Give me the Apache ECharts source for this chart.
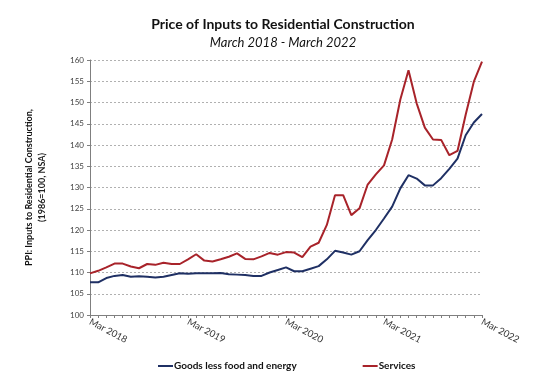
<!DOCTYPE html>
<html>
<head>
<meta charset="utf-8">
<script src="https://cdn.jsdelivr.net/npm/echarts@6/dist/echarts.min.js"></script>
<style>html,body{margin:0;padding:0;background:#fff;}#c{width:538px;height:378px;}</style>
</head>
<body>
<div id="c"></div>
<script>
var monthNames = ['Mar','Apr','May','Jun','Jul','Aug','Sep','Oct','Nov','Dec','Jan','Feb'];
var startYear = 2018;
var categories = [];
for (var i = 0; i < 49; i++) {
  var y = startYear + Math.floor((i + 2) / 12);
  categories.push(monthNames[i % 12] + ' ' + y);
}
var goods = [107.7,107.7,108.7,109.2,109.4,109.0,109.1,109.0,108.8,109.0,109.4,109.8,
  109.7,109.8,109.8,109.8,109.9,109.6,109.5,109.4,109.2,109.2,110.0,110.6,
  111.2,110.3,110.3,110.9,111.5,113.1,115.1,114.7,114.2,115.0,117.6,120.0,
  122.7,125.5,129.8,132.9,132.1,130.5,130.5,132.2,134.4,136.8,142.3,145.3,147.3];
var services = [109.8,110.4,111.2,112.1,112.1,111.4,111.0,112.0,111.8,112.3,112.0,112.0,
  113.1,114.3,112.8,112.6,113.1,113.7,114.5,113.2,113.1,113.8,114.6,114.2,
  114.8,114.7,113.6,116.1,117.0,121.2,128.2,128.2,123.5,125.1,130.7,133.1,
  135.2,141.3,150.7,157.6,149.8,144.1,141.3,141.2,137.6,138.6,147.1,154.9,159.6];
var yTicks = {min: 100, max: 160, interval: 5};
var titleText = 'Price of Inputs to Residential Construction';
var subtitleText = 'March 2018 - March 2022';
var yName1 = 'PPI: Inputs to Residential Construction,';
var yName2 = '(1986=100, NSA)';

var FONT = 'Lato';
var chart = echarts.init(document.getElementById('c'), null, {renderer: 'canvas'});
chart.setOption({
  animation: false,
  backgroundColor: '#fff',
  title: [
    {text: titleText, left: 278, top: 12, textAlign: 'center',
     textStyle: {fontFamily: FONT, fontSize: 14, fontWeight: 'bold', color: '#111'}},
    {text: subtitleText, left: 278, top: 31, textAlign: 'center',
     textStyle: {fontFamily: FONT, fontSize: 13, fontStyle: 'italic', fontWeight: 'normal', color: '#111'}}
  ],
  legend: {
    bottom: 2, left: 153, itemGap: 66, itemWidth: 15, itemHeight: 2, icon: 'rect',
    textStyle: {fontFamily: FONT, fontSize: 10, fontWeight: 'bold', color: '#111', padding: [0,0,0,-4]},
    data: ['Goods less food and energy', 'Services']
  },
  grid: {left: 90, right: 56, top: 60, bottom: 63, containLabel: false},
  xAxis: {
    type: 'category', data: categories, boundaryGap: false,
    axisLine: {lineStyle: {color: '#7f7f7f', width: 1}},
    axisTick: {interval: 0, length: 3, lineStyle: {color: '#7f7f7f'}},
    axisLabel: {interval: 11, rotate: -28, fontFamily: FONT, fontSize: 9.5, color: '#333', margin: 6},
    splitLine: {show: false}
  },
  yAxis: {
    type: 'value', min: yTicks.min, max: yTicks.max, interval: yTicks.interval,
    name: '{a|' + yName1 + '}\n{b|' + yName2 + '}',
    nameLocation: 'middle', nameRotate: 90, nameGap: 41,
    nameTextStyle: {
      lineHeight: 13,
      rich: {
        a: {fontFamily: FONT, fontSize: 9, fontWeight: 'bold', color: '#111', lineHeight: 13},
        b: {fontFamily: FONT, fontSize: 9, fontWeight: 'bold', color: '#222', lineHeight: 13}
      }
    },
    axisLine: {show: true, lineStyle: {color: '#7f7f7f', width: 1}},
    axisTick: {show: true, length: 3, lineStyle: {color: '#7f7f7f'}},
    axisLabel: {fontFamily: FONT, fontSize: 8, color: '#444', margin: 6},
    splitLine: {show: true, lineStyle: {color: '#b0b0b0', type: [2, 2], width: 1}}
  },
  series: [
    {name: 'Goods less food and energy', type: 'line', data: goods, showSymbol: false, symbol: 'none',
     lineStyle: {color: '#1f3064', width: 2}, itemStyle: {color: '#1f3064'}},
    {name: 'Services', type: 'line', data: services, showSymbol: false, symbol: 'none',
     lineStyle: {color: '#a8232a', width: 2}, itemStyle: {color: '#a8232a'}}
  ]
});
</script>
</body>
</html>
